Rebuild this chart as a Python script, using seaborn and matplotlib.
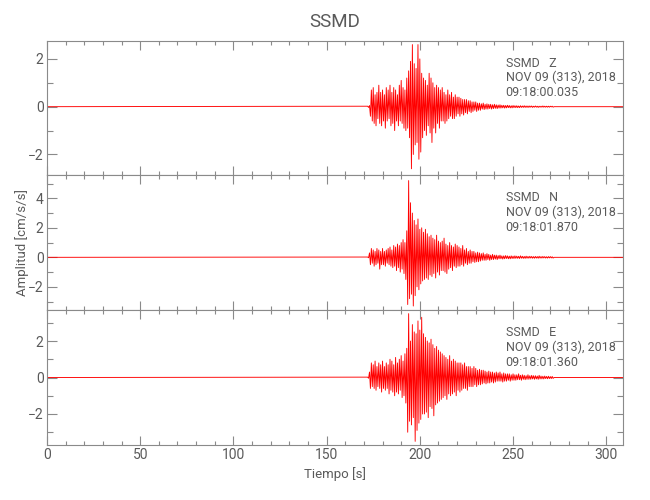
import numpy as np
import pandas as pd
import matplotlib
matplotlib.use("Agg")
import matplotlib.pyplot as plt
from matplotlib.ticker import MultipleLocator
import seaborn as sns

# station / component labels
station = "SSMD"
components = ["Z", "N", "E"]
start_times = ["09:18:00.035", "09:18:01.870", "09:18:01.360"]
date_label = "NOV 09 (313), 2018"

# sample times (s) of the strong-motion window, 0.5 s steps
t_active = np.arange(172, 272, 0.5)
t_quiet_end = 272.0
t_end = 309.0

# peak amplitudes (cm/s/s), one row = 10 s
amp_z = [
    0.02, -0.03, 0.05, -0.4, 0.7, -0.6, 0.8, -0.7, 0.5, -0.8, 0.6, -0.5, 0.9, -0.7, 0.6, -0.8, 0.7, -0.6, 0.5, -0.9,
    0.8, -0.6, 0.7, -0.5, 0.9, -0.8, 0.6, -0.7, 0.8, -1.0, 0.7, -0.6, 0.5, -0.8, 0.9, -0.6, 1.1, -0.7, 0.8, -0.9,
    0.7, -1.0, 1.2, -0.9, 1.5, -1.3, 1.9, -2.6, 2.6, -2.0, 1.8, -1.6, 1.6, -1.5, 2.6, -2.2, 2.0, -1.9, 1.4, -1.3,
    1.2, -1.0, 1.1, -1.2, 0.9, -0.8, 1.4, -1.1, 1.2, -1.5, 1.0, -0.9, 0.8, -1.1, 0.9, -0.7, 0.8, -0.9, 0.7, -0.6,
    0.8, -0.6, 0.6, -0.7, 0.5, -0.6, 0.7, -0.5, 0.5, -0.4, 0.6, -0.5, 0.4, -0.5, 0.5, -0.4, 0.4, -0.3, 0.4, -0.4,
    0.35, -0.3, 0.3, -0.35, 0.3, -0.25, 0.3, -0.3, 0.25, -0.2, 0.25, -0.25, 0.2, -0.2, 0.2, -0.15, 0.2, -0.2, 0.15, -0.15,
    0.15, -0.15, 0.12, -0.1, 0.15, -0.12, 0.1, -0.1, 0.12, -0.1, 0.1, -0.08, 0.1, -0.1, 0.08, -0.08, 0.1, -0.07, 0.08, -0.08,
    0.07, -0.06, 0.08, -0.06, 0.06, -0.05, 0.06, -0.06, 0.05, -0.05, 0.06, -0.04, 0.05, -0.05, 0.04, -0.05, 0.05, -0.04, 0.04, -0.04,
    0.04, -0.04, 0.03, -0.04, 0.04, -0.03, 0.03, -0.03, 0.04, -0.03, 0.03, -0.03, 0.03, -0.03, 0.03, -0.02, 0.03, -0.03, 0.02, -0.02,
    0.03, -0.02, 0.02, -0.03, 0.02, -0.02, 0.02, -0.02, 0.03, -0.02, 0.02, -0.02, 0.02, -0.02, 0.02, -0.02, 0.02, -0.01, 0.02, -0.02,
]
amp_n = [
    0.02, -0.03, 0.3, -0.5, 0.6, -0.4, 0.5, -0.6, 0.4, -0.5, 0.6, -0.4, 0.5, -0.8, 0.4, -0.5, 0.6, -0.5, 0.4, -0.6,
    0.5, -0.4, 0.6, -0.5, 0.7, -0.6, 0.5, -0.7, 0.8, -0.6, 0.7, -0.9, 0.9, -0.7, 0.8, -1.0, 1.0, -0.8, 1.2, -1.1,
    1.0, -1.5, 1.8, -3.2, 5.2, -2.8, 3.7, -2.5, 3.0, -3.3, 2.5, -2.6, 2.2, -2.0, 2.6, -2.2, 1.9, -1.8, 2.0, -1.6,
    1.7, -1.5, 1.9, -1.4, 1.6, -1.5, 1.4, -1.2, 1.5, -1.3, 1.3, -1.1, 1.2, -1.4, 1.5, -1.0, 1.1, -1.2, 1.0, -0.9,
    1.1, -0.9, 1.3, -1.0, 0.9, -1.1, 0.8, -0.8, 1.0, -0.7, 0.8, -0.9, 0.7, -0.6, 0.9, -0.7, 0.8, -0.6, 0.7, -0.6,
    0.6, -0.5, 0.8, -0.6, 0.5, -0.4, 0.6, -0.5, 0.4, -0.4, 0.5, -0.4, 0.4, -0.3, 0.4, -0.35, 0.3, -0.3, 0.35, -0.3,
    0.3, -0.25, 0.25, -0.2, 0.3, -0.2, 0.2, -0.2, 0.25, -0.15, 0.2, -0.2, 0.15, -0.15, 0.2, -0.15, 0.15, -0.12, 0.15, -0.15,
    0.12, -0.1, 0.15, -0.1, 0.1, -0.12, 0.1, -0.1, 0.12, -0.08, 0.1, -0.1, 0.08, -0.1, 0.1, -0.08, 0.08, -0.08, 0.1, -0.07,
    0.08, -0.07, 0.07, -0.08, 0.1, -0.06, 0.07, -0.07, 0.06, -0.07, 0.08, -0.06, 0.06, -0.06, 0.07, -0.05, 0.06, -0.06, 0.05, -0.06,
    0.06, -0.05, 0.05, -0.06, 0.07, -0.05, 0.05, -0.05, 0.06, -0.04, 0.05, -0.05, 0.04, -0.05, 0.05, -0.04, 0.05, -0.04, 0.04, -0.05,
]
amp_e = [
    0.02, -0.04, 0.3, -0.6, 0.8, -0.5, 0.7, -0.6, 0.9, -0.7, 0.6, -0.5, 0.8, -0.6, 0.7, -0.8, 0.9, -0.6, 0.6, -0.7,
    0.8, -0.6, 0.7, -0.9, 1.0, -0.7, 0.9, -0.8, 0.7, -1.0, 1.1, -0.8, 0.8, -0.9, 1.0, -0.7, 1.2, -1.1, 0.9, -1.0,
    1.3, -1.4, 1.6, -3.0, 3.5, -2.4, 2.0, -2.6, 2.9, -2.2, 2.5, -3.5, 2.4, -2.9, 3.1, -2.5, 2.6, -2.3, 3.3, -2.0,
    2.4, -2.0, 2.2, -1.9, 2.0, -2.2, 1.9, -1.6, 2.1, -1.7, 1.8, -2.1, 1.6, -1.5, 1.7, -1.4, 1.5, -1.3, 1.4, -1.2,
    1.3, -1.1, 1.2, -1.0, 1.1, -1.2, 1.0, -0.9, 1.2, -1.0, 0.9, -0.9, 1.0, -0.8, 0.9, -1.0, 0.8, -0.7, 0.8, -0.8,
    0.8, -0.7, 0.7, -0.6, 0.8, -0.6, 0.6, -0.7, 0.6, -0.5, 0.6, -0.5, 0.5, -0.5, 0.6, -0.4, 0.5, -0.5, 0.4, -0.4,
    0.45, -0.4, 0.4, -0.35, 0.4, -0.3, 0.35, -0.35, 0.3, -0.3, 0.35, -0.3, 0.3, -0.25, 0.3, -0.3, 0.25, -0.25, 0.3, -0.2,
    0.25, -0.2, 0.3, -0.2, 0.2, -0.25, 0.25, -0.2, 0.2, -0.2, 0.2, -0.15, 0.2, -0.2, 0.15, -0.15, 0.2, -0.15, 0.15, -0.15,
    0.15, -0.12, 0.2, -0.12, 0.12, -0.15, 0.15, -0.1, 0.12, -0.12, 0.1, -0.1, 0.15, -0.1, 0.1, -0.1, 0.12, -0.08, 0.1, -0.1,
    0.1, -0.08, 0.08, -0.1, 0.12, -0.08, 0.08, -0.08, 0.07, -0.08, 0.08, -0.06, 0.06, -0.07, 0.07, -0.06, 0.05, -0.06, 0.06, -0.05,
]

ylims = {"Z": (-2.86, 2.75), "N": (-3.57, 5.58), "E": (-3.7, 3.7)}

# long-form table: quiet pre-event and tail segments at zero
frames = []
for comp, amp in zip(components, [amp_z, amp_n, amp_e]):
    t = np.concatenate([[0.0], t_active, [t_quiet_end, t_end]])
    a = np.concatenate([[0.0], amp, [0.0, 0.0]])
    frames.append(pd.DataFrame({"comp": comp, "time": t, "amp": a}))
df = pd.concat(frames, ignore_index=True)

sns.set_theme(style="ticks")
plt.rcParams["font.family"] = ["Roboto", "DejaVu Sans"]
gray = "#8a8a8a"
txt = "#5a5a5a"

fig = plt.figure(figsize=(6.5, 5), dpi=100)
boxes = [(0.0723, 0.650, 0.8862, 0.268),
         (0.0723, 0.380, 0.8862, 0.270),
         (0.0723, 0.110, 0.8862, 0.270)]

for i, comp in enumerate(components):
    ax = fig.add_axes(boxes[i])
    sub = df[df["comp"] == comp]
    sns.lineplot(data=sub, x="time", y="amp", ax=ax, color="#ff0000",
                 linewidth=0.65, estimator=None, sort=False)
    ax.set_xlim(0, 309)
    ax.set_ylim(*ylims[comp])
    ax.xaxis.set_major_locator(MultipleLocator(50))
    ax.xaxis.set_minor_locator(MultipleLocator(10))
    ax.yaxis.set_major_locator(MultipleLocator(2))
    ax.yaxis.set_minor_locator(MultipleLocator(1))
    ax.tick_params(axis="both", which="both", direction="in", top=True, right=True,
                   color=gray, labelcolor=txt, labelsize=10, pad=2.5, width=0.8)
    ax.tick_params(axis="x", which="major", length=6.5)
    ax.tick_params(axis="x", which="minor", length=3.2)
    ax.tick_params(axis="y", which="major", length=7.5)
    ax.tick_params(axis="y", which="minor", length=4.3)
    for s in ax.spines.values():
        s.set_color(gray)
        s.set_linewidth(0.8)
    ax.set_xlabel("")
    ax.set_ylabel("")
    if i < 2:
        ax.tick_params(axis="x", labelbottom=False)
    else:
        ax.set_xlabel("Tiempo [s]", color=txt, fontsize=9.5, labelpad=3)
    if i == 1:
        ax.set_ylabel("Amplitud [cm/s/s]", color=txt, fontsize=9.5)
        ax.yaxis.set_label_coords(-0.032, 0.5)
    if i == 0:
        ax.set_title(station, color=txt, fontsize=13.5, pad=10)

    lines = [f"{station}   {comp}", date_label, start_times[i]]
    for j, s in enumerate(lines):
        ax.text(0.796, 0.808 - 0.11 * j, s, transform=ax.transAxes,
                ha="left", va="baseline", color=txt, fontsize=9)

fig.savefig("out.png", dpi=100, facecolor="white")
